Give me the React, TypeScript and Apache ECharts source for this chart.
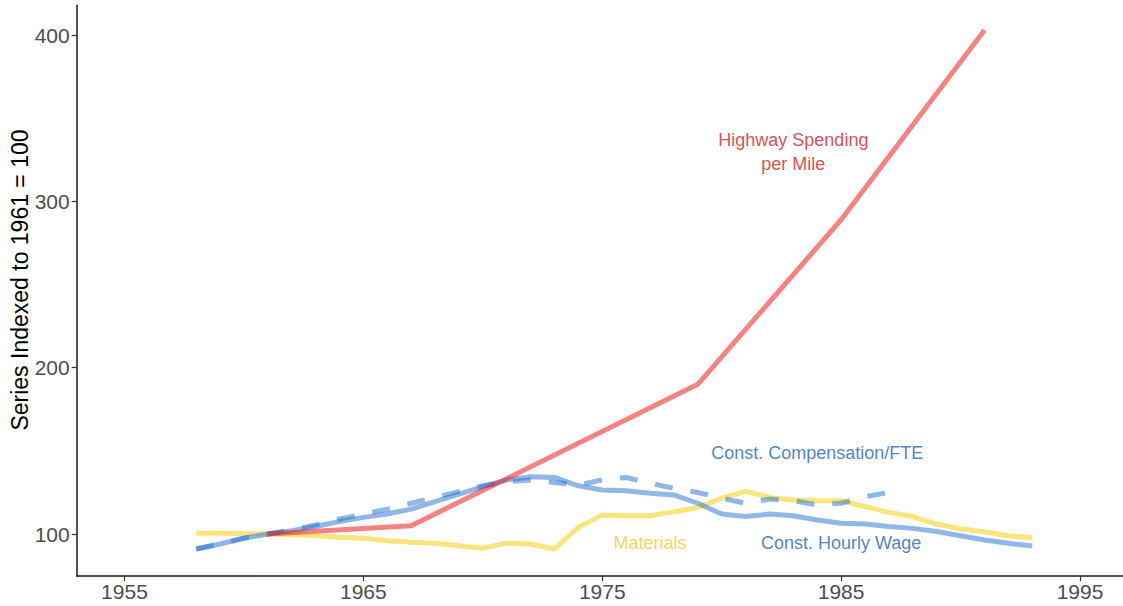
import React, { useEffect, useRef } from "react";
import * as echarts from "echarts";

const years = [1958, 1959, 1960, 1961, 1962, 1963, 1964, 1965, 1966, 1967, 1968, 1969, 1970, 1971, 1972, 1973, 1974, 1975, 1976, 1977, 1978, 1979, 1980, 1981, 1982, 1983, 1984, 1985, 1986, 1987, 1988, 1989, 1990, 1991, 1992, 1993];
const materials = [100.4, 100.4, 100.2, 100, 99.5, 99, 98, 97.5, 96, 95, 94.5, 93, 91.5, 94.5, 94, 91, 104, 111.5, 111, 111, 113.4, 116, 121.5, 125.7, 122, 120.4, 120, 120, 116.5, 113, 110.5, 106, 103, 101.4, 99, 97.8];
const hourlyWage = [91, 94, 97.5, 100, 102, 104.5, 107.5, 110, 112, 115, 119.5, 124, 128.5, 132.5, 134.5, 134, 129, 126.5, 126, 124.5, 123.5, 118.5, 112, 110.5, 112, 111, 108.4, 106.5, 106, 104.5, 103.4, 101.5, 99, 96.4, 94.4, 92.8];
const compYears = [1958, 1959, 1960, 1961, 1962, 1963, 1964, 1965, 1966, 1967, 1968, 1969, 1970, 1971, 1972, 1973, 1974, 1975, 1976, 1977, 1978, 1979, 1980, 1981, 1982, 1983, 1984, 1985, 1986, 1987];
const compensation = [91, 94, 97.5, 100, 102.5, 105.5, 109, 112, 115, 118.5, 122, 125.5, 129, 131.5, 132.5, 131, 129.5, 132.5, 134, 130.5, 127.5, 125, 121.5, 118.5, 121, 120, 117.5, 118.5, 122.5, 125];
const highwayYears = [1961, 1967, 1979, 1985, 1991];
const highwaySpending = [100, 105, 190, 289, 403];

const xTicks = [1955, 1965, 1975, 1985, 1995];
const yTicks = [100, 200, 300, 400];
const yTitle = "Series Indexed to 1961 = 100";

const labelNames = ["Highway Spending\nper Mile", "Const. Compensation/FTE", "Const. Hourly Wage", "Materials"];
const labelYears = [1983, 1984, 1985, 1977];
const labelValues = [330, 149, 94.5, 94.5];
const labelColors = ["#d61c1c", "#1f64b2", "#1f64b2", "#f0cd32"];

const FONT = "'Liberation Sans', Arial, Helvetica, sans-serif";

export default function App() {
  const ref = useRef<HTMLDivElement>(null);
  useEffect(() => {
    if (!ref.current) return;
    const chart = echarts.init(ref.current, null, { renderer: "svg" });
    const pair = (xs: number[], ys: number[]) => xs.map((x, i) => [x, ys[i]]);
    chart.setOption({
      animation: false,
      backgroundColor: "#ffffff",
      textStyle: { fontFamily: FONT },
      grid: { left: 76.7, right: 0, top: 5.2, bottom: 29.9, containLabel: false, outerBoundsMode: "none" },
      graphic: [
        {
          type: "text",
          x: 20,
          y: 280,
          rotation: Math.PI / 2,
          style: {
            text: yTitle,
            fill: "#000",
            font: `23px ${FONT}`,
            textAlign: "center",
            textVerticalAlign: "middle",
          },
        },
      ],
      xAxis: {
        type: "value",
        min: 1953,
        max: 1996.8,
        splitLine: { show: false },
        axisLine: { show: true, lineStyle: { color: "#1a1a1a", width: 1.5 } },
        axisTick: { show: true, length: 5, lineStyle: { color: "#333", width: 1.2 }, customValues: xTicks },
        axisLabel: { color: "#4d4d4d", fontSize: 21, margin: 5, fontFamily: FONT, customValues: xTicks, formatter: (v: number) => String(v) },
      },
      yAxis: {
        type: "value",
        min: 74.7,
        max: 418,
        splitLine: { show: false },
        axisLine: { show: true, lineStyle: { color: "#1a1a1a", width: 1.5 } },
        axisTick: { show: true, length: 5, lineStyle: { color: "#333", width: 1.2 }, customValues: yTicks },
        axisLabel: { color: "#4d4d4d", fontSize: 21, margin: 7, fontFamily: FONT, customValues: yTicks },
      },
      series: [
        {
          name: "Materials",
          type: "line",
          data: pair(years, materials),
          showSymbol: false,
          symbol: "none",
          lineStyle: { color: "#f5cf10", width: 5, opacity: 0.55 },
          z: 2,
        },
        {
          name: "Const. Hourly Wage",
          type: "line",
          data: pair(years, hourlyWage),
          showSymbol: false,
          symbol: "none",
          lineStyle: { color: "#1f6fd0", width: 5, opacity: 0.5 },
          z: 3,
        },
        {
          name: "Const. Compensation/FTE",
          type: "line",
          data: pair(compYears, compensation),
          showSymbol: false,
          symbol: "none",
          lineStyle: { color: "#1f6fd0", width: 5, opacity: 0.5, type: [18, 18], cap: "butt" },
          z: 4,
        },
        {
          name: "Highway Spending per Mile",
          type: "line",
          data: pair(highwayYears, highwaySpending),
          showSymbol: false,
          symbol: "none",
          lineStyle: { color: "#ee1c1c", width: 5, opacity: 0.55 },
          z: 5,
        },
        {
          name: "labels",
          type: "scatter",
          symbolSize: 0,
          silent: true,
          z: 10,
          data: labelNames.map((n, i) => ({
            value: [labelYears[i], labelValues[i]],
            label: {
              show: true,
              position: "inside",
              formatter: n,
              color: labelColors[i],
              fontSize: 18,
              lineHeight: 24,
              align: "center",
              verticalAlign: "middle",
              fontFamily: FONT,
            },
          })),
        },
      ],
    });
    return () => chart.dispose();
  }, []);
  return <div ref={ref} style={{ position: "absolute", left: 0, top: 0, width: 1123, height: 606 }} />;
}
